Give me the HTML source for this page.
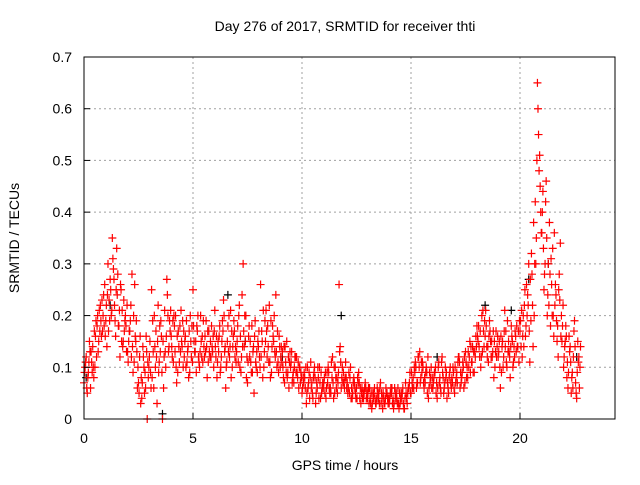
<!DOCTYPE html>
<html><head><meta charset="utf-8"><style>
body{margin:0;background:#fff;width:640px;height:480px;overflow:hidden}
text{font-family:"Liberation Sans",sans-serif;font-size:14px;fill:#000}
</style></head><body>
<svg id="chart" width="640" height="480" xmlns="http://www.w3.org/2000/svg">
<rect width="640" height="480" fill="#fff"/>
<g id="grid"></g>
<g id="marksB"></g>
<g id="marksR"></g>
<rect x="84" y="57" width="531" height="362" fill="none" stroke="#000" stroke-width="1"/>
<g id="ticks"></g>
<text x="345" y="31" text-anchor="middle">Day 276 of 2017, SRMTID for receiver thti</text>
<text x="345" y="470" text-anchor="middle">GPS time / hours</text>
<text transform="translate(19,238) rotate(-90)" text-anchor="middle">SRMTID / TECUs</text>
</svg>
<script>
const xTicks=[0,5,10,15,20];
const yTicks=[0,0.1,0.2,0.3,0.4,0.5,0.6,0.7];
const yTickLabels=["0","0.1","0.2","0.3","0.4","0.5","0.6","0.7"];
const stepHours=0.1;
const redA=[.07,.12,.09,.06,.14,.10,.18,.21,.16,.24,
.19,.30,.27,.35,.22,.33,.18,.25,.15,.20,
.13,.17,.28,.11,.19,.07,.03,.14,.09,.00,
.12,.25,.06,.17,.22,.13,.00,.21,.27,.14,
.16,.11,.20,.09,.18,.14,.12,.19,.08,.15,
.25,.13,.17,.10,.12,.14,.19,.11,.15,.13,
.21,.08,.16,.12,.23,.06,.18,.14,.10,.17,
.13,.20,.09,.30,.15,.07,.12,.18,.05,.10,
.14,.26,.08,.19,.12,.22,.09,.15,.24,.11,
.10,.13,.07,.15,.06,.11,.09,.12,.08,.10,
.05,.09,.03,.07,.11,.04,.08,.06,.10,.05,
.07,.04,.10,.06,.12,.05,.08,.26,.06,.09,
.11,.05,.08,.04,.07,.06,.09,.03,.05,.07,
.04,.06,.02,.05,.03,.04,.07,.02,.03,.05,
.03,.05,.02,.04,.06,.03,.05,.02,.04,.06,
.05,.08,.11,.07,.13,.09,.06,.10,.04,.08,
.06,.09,.04,.07,.11,.05,.08,.06,.10,.07,
.05,.09,.12,.07,.10,.13,.08,.15,.11,.09,
.14,.18,.10,.21,.16,.12,.19,.15,.08,.17,
.12,.06,.15,.21,.10,.13,.18,.11,.16,.14,
.17,.12,.22,.26,.30,.19,.14,.42,.65,.51,
.36,.25,.46,.30,.18,.33,.22,.15,.28,.20,
.10,.18,.06,.14,.09,.19,.04,.12];
const redB=[.10,.05,.15,.11,.08,.19,.13,.22,.17,.26,
.14,.23,.20,.29,.16,.28,.12,.21,.17,.13,
.15,.22,.09,.16,.06,.12,.04,.10,.16,.08,
.09,.19,.14,.03,.11,.16,.06,.10,.20,.17,
.12,.18,.07,.14,.21,.10,.16,.13,.09,.18,
.15,.09,.12,.20,.11,.16,.08,.13,.18,.10,
.12,.15,.09,.19,.13,.11,.20,.08,.16,.14,
.18,.10,.24,.14,.08,.16,.11,.13,.19,.09,
.12,.17,.10,.21,.14,.08,.18,.13,.10,.16,
.14,.08,.11,.09,.13,.07,.10,.12,.06,.09,
.08,.06,.10,.04,.07,.09,.05,.08,.04,.07,
.05,.09,.06,.11,.04,.08,.07,.14,.10,.06,
.06,.09,.04,.07,.05,.08,.04,.06,.05,.04,
.06,.03,.05,.04,.06,.03,.05,.04,.06,.03,
.05,.03,.06,.04,.02,.05,.03,.07,.05,.09,
.07,.10,.06,.12,.08,.10,.07,.05,.09,.06,
.08,.05,.10,.06,.09,.07,.04,.08,.06,.09,
.07,.11,.06,.09,.12,.08,.10,.14,.09,.12,
.16,.12,.20,.14,.18,.11,.15,.13,.10,.14,
.15,.09,.12,.17,.13,.08,.15,.12,.18,.11,
.14,.20,.16,.24,.11,.28,.20,.35,.55,.40,
.44,.30,.20,.38,.26,.16,.24,.12,.34,.18,
.14,.08,.16,.05,.12,.07,.15,.10];
const redC=[.09,.06,.11,.13,.10,.16,.20,.17,.23,.18,
.22,.17,.25,.31,.19,.24,.21,.15,.23,.18,
.11,.19,.14,.26,.13,.05,.08,.12,.06,.11,
.15,.08,.20,.12,.09,.19,.15,.13,.24,.19,
.14,.20,.10,.17,.13,.19,.15,.11,.17,.12,
.18,.15,.20,.13,.16,.12,.14,.17,.12,.16,
.14,.11,.18,.15,.20,.10,.13,.21,.14,.12,
.15,.22,.12,.17,.20,.11,.15,.09,.16,.13,
.17,.12,.21,.15,.18,.11,.14,.20,.13,.09,
.12,.10,.14,.08,.11,.13,.07,.09,.11,.07,
.06,.08,.05,.09,.06,.08,.03,.10,.07,.06,
.08,.06,.09,.05,.07,.10,.05,.13,.08,.07,
.08,.06,.10,.05,.06,.04,.07,.05,.04,.06,
.05,.04,.03,.06,.04,.05,.03,.05,.04,.04,
.04,.06,.03,.05,.03,.04,.06,.04,.03,.07,
.09,.06,.10,.12,.07,.11,.08,.09,.06,.10,
.07,.10,.06,.08,.12,.06,.09,.05,.07,.10,
.10,.07,.11,.08,.06,.11,.13,.09,.14,.13,
.18,.14,.12,.17,.21,.14,.17,.12,.15,.12,
.13,.16,.10,.14,.19,.12,.16,.14,.13,.17,
.19,.16,.25,.20,.17,.32,.38,.30,.60,.45,
.40,.28,.35,.22,.31,.20,.26,.18,.23,.15,
.12,.16,.09,.11,.06,.14,.09,.06];
const redD=[.11,.08,.13,.09,.17,.12,.15,.19,.20,.16,
.24,.19,.21,.27,.25,.18,.26,.14,.19,.22,
.17,.12,.20,.15,.10,.16,.07,.05,.13,.10,
.06,.13,.10,.15,.18,.09,.12,.16,.13,.21,
.19,.13,.16,.11,.15,.17,.10,.14,.20,.11,
.13,.18,.11,.15,.19,.13,.17,.12,.14,.17,
.16,.13,.10,.17,.14,.15,.12,.17,.19,.11,
.11,.16,.14,.20,.12,.18,.09,.14,.11,.15,
.10,.15,.13,.17,.11,.19,.16,.12,.17,.14,
.11,.14,.09,.12,.10,.08,.12,.09,.10,.08,
.07,.10,.06,.08,.05,.10,.07,.04,.09,.06,
.09,.07,.05,.08,.10,.06,.09,.11,.07,.08,
.07,.05,.06,.08,.04,.07,.06,.04,.06,.05,
.03,.05,.04,.03,.05,.06,.04,.03,.05,.04,
.06,.04,.05,.03,.05,.04,.02,.05,.06,.05,
.06,.09,.07,.10,.11,.07,.09,.12,.07,.08,
.09,.07,.11,.05,.08,.10,.07,.09,.08,.06,
.08,.12,.09,.11,.07,.10,.12,.11,.13,.16,
.15,.17,.13,.19,.14,.16,.12,.17,.13,.16,
.10,.14,.17,.11,.15,.14,.10,.17,.14,.19,
.21,.14,.18,.22,.27,.22,.30,.50,.48,.36,
.33,.42,.24,.28,.20,.36,.19,.25,.16,.22,
.15,.11,.13,.08,.17,.05,.11,.14];
const blackTimes=[0.1,1.2,3.6,6.6,7.4,9.1,11.8,13.5,16.2,18.4,19.6,20.4,21.3,22.6];
const blackValues=[.08,.22,.01,.24,.15,.12,.20,.04,.12,.22,.21,.27,.30,.12];

const X0=84,X1=615,Y0=419,Y1=57,XMAX=(615-84)/21.8,YMAX=0.7;
const sx=t=>X0+t/XMAX*(X1-X0);
const sy=v=>Y0-v/YMAX*(Y0-Y1);
const NS="http://www.w3.org/2000/svg";
function mk(tag,attrs,parent){const e=document.createElementNS(NS,tag);for(const k in attrs)e.setAttribute(k,attrs[k]);parent.appendChild(e);return e;}
const grid=document.getElementById('grid'),ticks=document.getElementById('ticks');
xTicks.forEach(t=>{
  const x=sx(t);
  if(t>0){const g=mk('line',{x1:x,x2:x,y1:Y1,y2:Y0,stroke:'#a0a0a0','stroke-dasharray':'2,3'},grid);
  
  }
  const l=mk('line',{x1:x,x2:x,y1:Y0,y2:Y0-6,stroke:'#000'},ticks);
  
  
  const tx=mk('text',{x:x,y:443,'text-anchor':'middle'},ticks);tx.textContent=t;
  
  
});
yTicks.forEach((v,i)=>{
  const y=sy(v);
  if(v>0&&v<0.7){const g=mk('line',{x1:X0,x2:X1,y1:y,y2:y,stroke:'#a0a0a0','stroke-dasharray':'2,3'},grid);
  
  }
  const l=mk('line',{x1:X0,x2:X0+6,y1:y,y2:y,stroke:'#000'},ticks);
  
  
  const tx=mk('text',{x:72,y:y+5,'text-anchor':'end'},ticks);tx.textContent=yTickLabels[i];
  
  
});
function plus(g,t,v,col){
  const x=sx(t),y=sy(v);
  const p=mk('path',{d:`M${x-4},${y}h8M${x},${y-4}v8`,stroke:col,'stroke-width':1.2,fill:'none'},g);
  
  
}
const gB=document.getElementById('marksB'),gR=document.getElementById('marksR');
blackTimes.forEach((t,i)=>plus(gB,t,blackValues[i],'#000'));
redA.forEach((v,i)=>plus(gR,i*stepHours,v,'#ff0000'));
redB.forEach((v,i)=>plus(gR,i*stepHours+0.05,v,'#ff0000'));
redC.forEach((v,i)=>plus(gR,i*stepHours+0.025,v,'#ff0000'));
redD.forEach((v,i)=>plus(gR,i*stepHours+0.075,v,'#ff0000'));
</script>
</body></html>
